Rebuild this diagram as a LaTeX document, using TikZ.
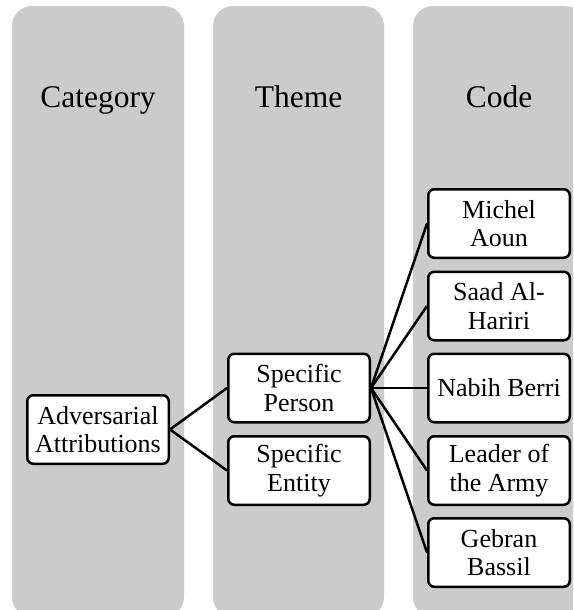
\documentclass[tikz,border=0pt]{standalone}
\usepackage{fontspec}
\setmainfont{Liberation Serif}
\begin{document}
\begin{tikzpicture}[x=1pt,y=-1pt,
  lane/.style={fill=lanegray, rounded corners=20pt},
  head/.style={anchor=base, font=\fontsize{31.5}{34}\selectfont},
  item/.style={draw=black, fill=white, line width=2.5pt, rounded corners=6pt,
    minimum width=141.5pt, minimum height=68.5pt, inner sep=0pt,
    align=center, font=\fontsize{26}{28.5}\selectfont},
  link/.style={line width=2.5pt}]
\definecolor{lanegray}{HTML}{CBCBCB}
\path[use as bounding box, clip] (0,0) rectangle (573,610);
\fill[white] (0,0) rectangle (573,610);
% three lanes
\fill[lane] (12,6) rectangle (184,617);
\fill[lane] (213,6) rectangle (384,617);
\fill[lane] (413,6) rectangle (585,617);
% lane headings
\node[head] (hcat) at (98,107) {Category};
\node[head] (hthe) at (298.5,107) {Theme};
\node[head] (hcod) at (499,107) {Code};
% category
\node[item] (adv) at (98,429.5) {Adversarial\\Attributions};
% themes
\node[item] (per) at (299,388) {Specific\\Person};
\node[item] (ent) at (299,470.5) {Specific\\Entity};
% codes
\node[item] (c1) at (499,223.5) {Michel\\Aoun};
\node[item] (c2) at (499,306) {Saad Al-\\Hariri};
\node[item] (c3) at (499,388) {Nabih Berri};
\node[item] (c4) at (499,470.5) {Leader of\\the Army};
\node[item] (c5) at (499,552.5) {Gebran\\Bassil};
% connectors
\draw[link] (adv.east) -- (per.west);
\draw[link] (adv.east) -- (ent.west);
\foreach \c in {c1,c2,c3,c4,c5}
  \draw[link] (per.east) -- (\c.west);
\end{tikzpicture}
\end{document}
